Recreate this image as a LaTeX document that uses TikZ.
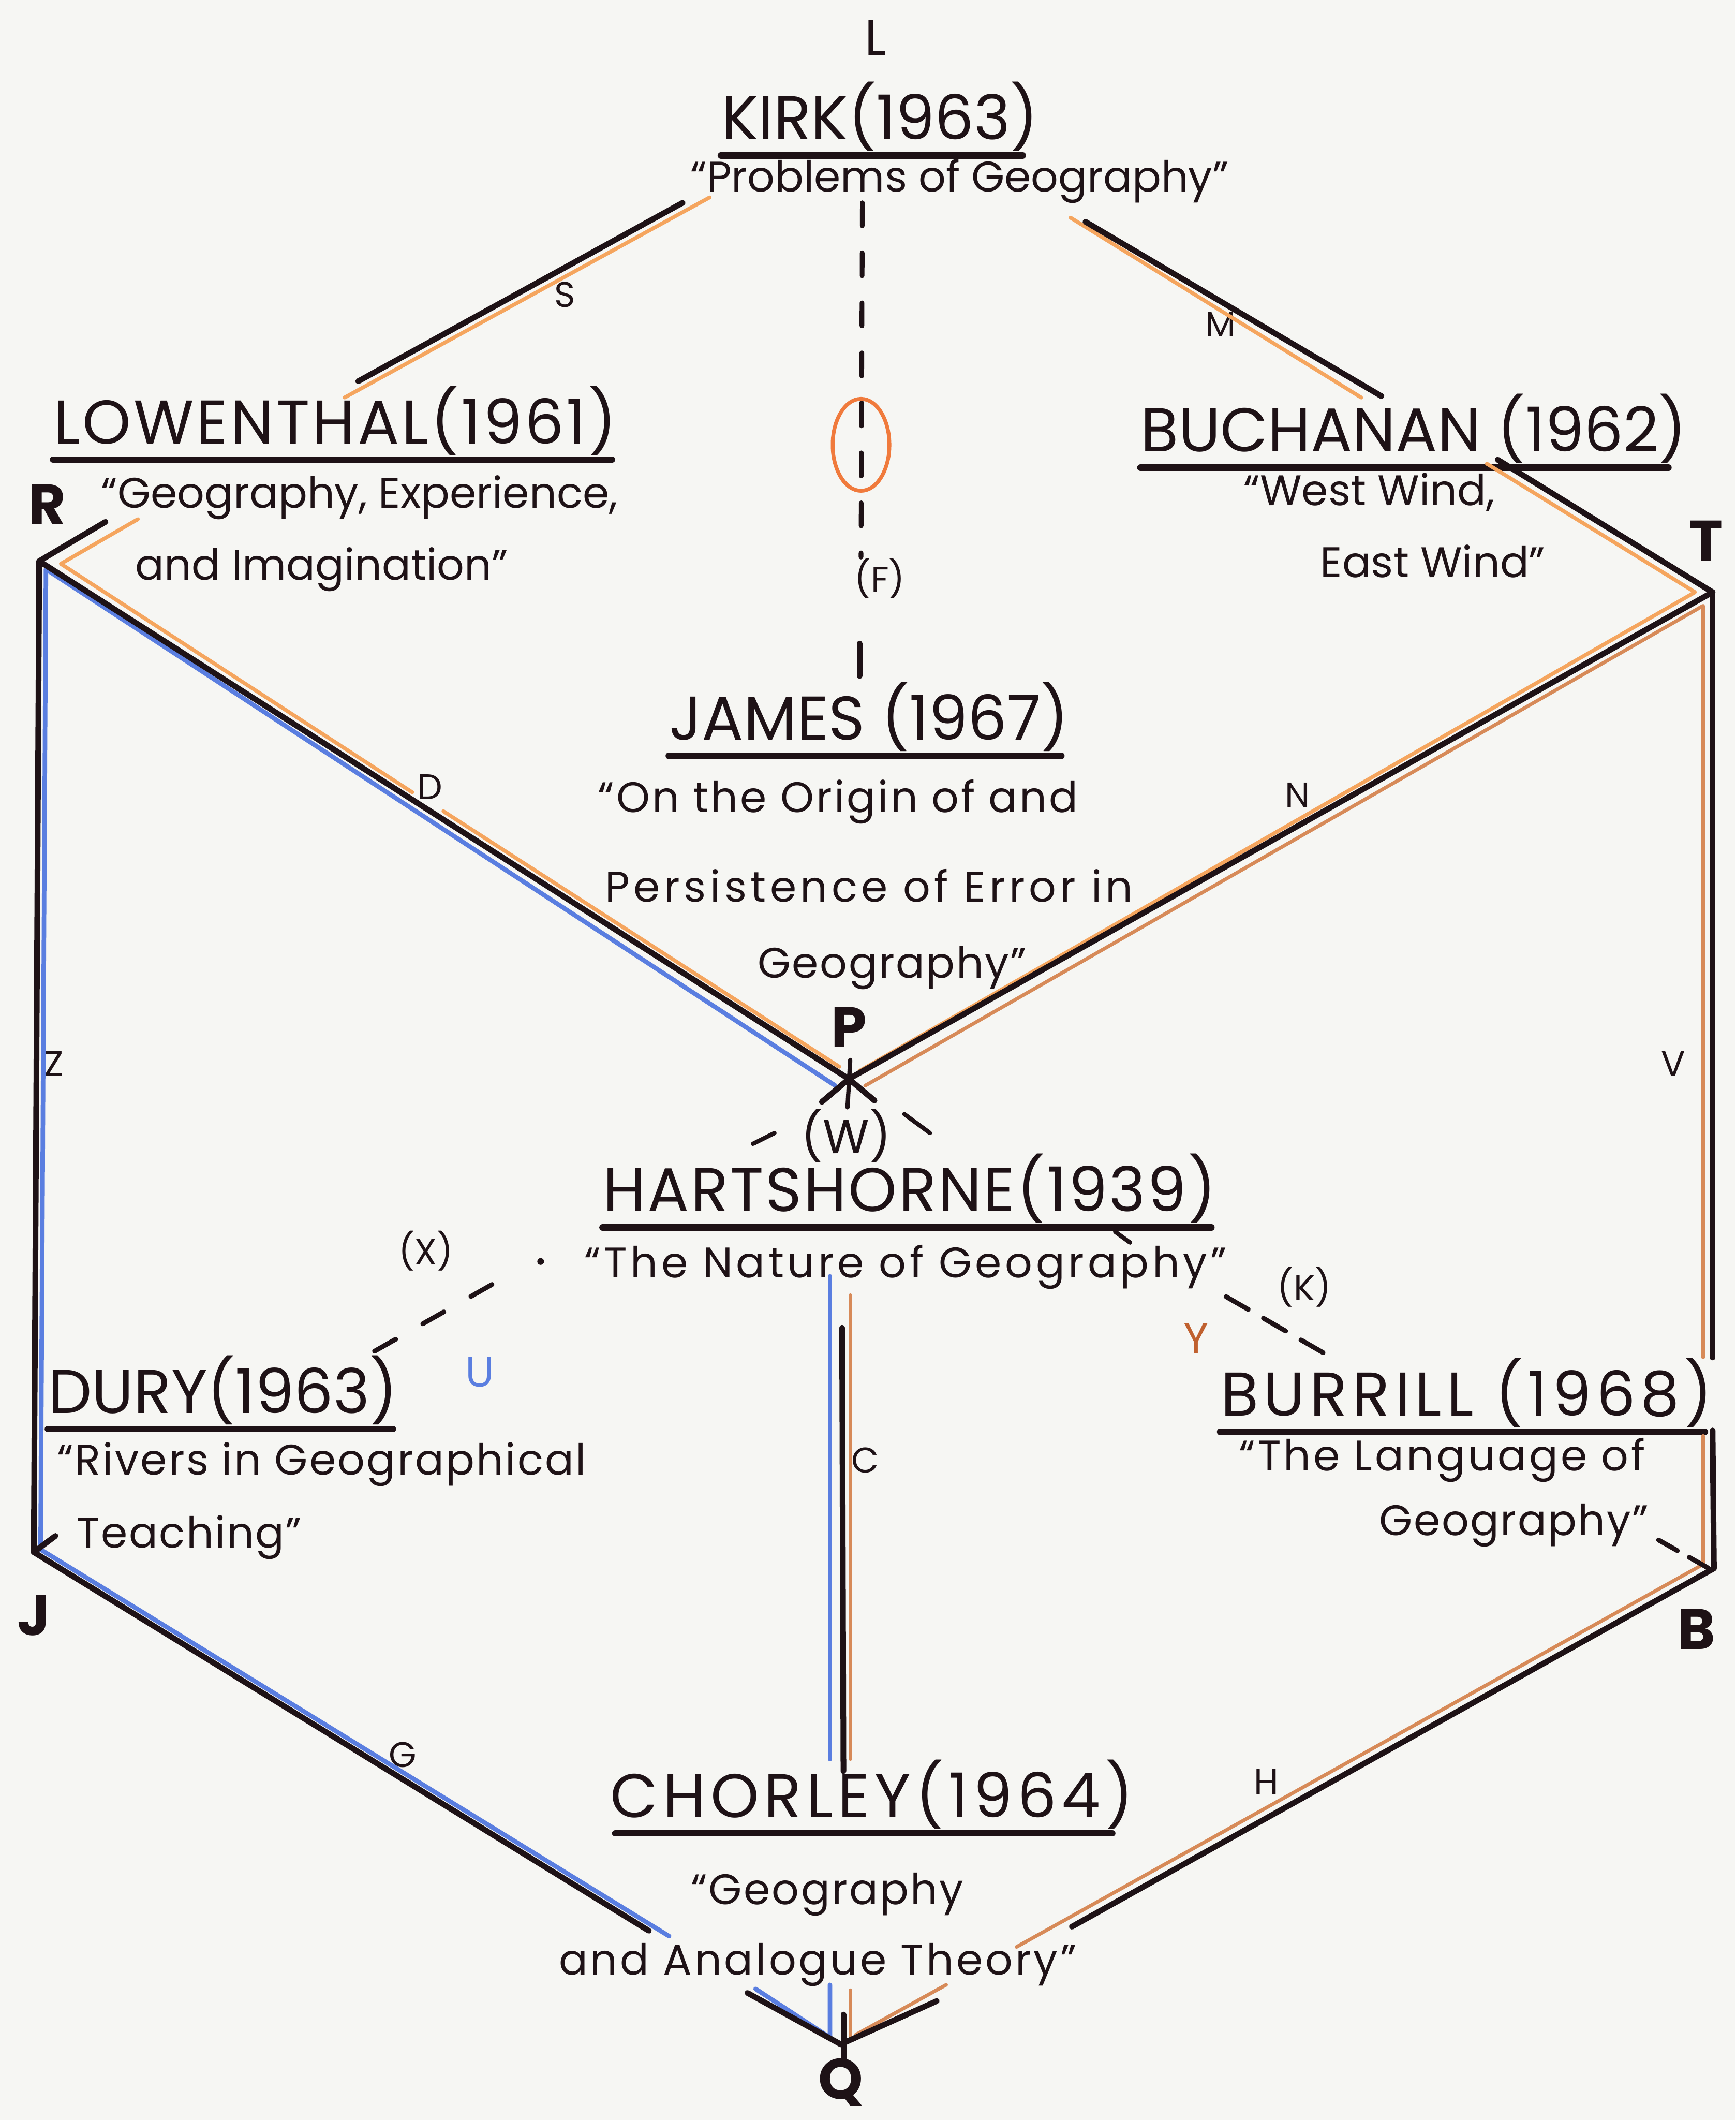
\documentclass[tikz,border=0pt]{standalone}
\usepackage{fontspec}
\setmainfont{Poppins}
\usetikzlibrary{calc}
\definecolor{paper}{HTML}{F6F6F3}
\definecolor{inkk}{HTML}{1E1216}
\definecolor{orng}{HTML}{F5A55E}
\definecolor{rust}{HTML}{D78A58}
\definecolor{azure}{HTML}{5A7EE0}
\definecolor{ovalred}{HTML}{F07A3C}
\definecolor{redbrown}{HTML}{C0602E}
\tikzset{
  every picture/.style={line cap=round, line join=round},
  ink/.style={inkk, line width=2.4pt},
  thinink/.style={inkk, line width=1.8pt},
  uline/.style={inkk, line width=2.8pt},
  oline/.style={orng, line width=1.6pt},
  bline/.style={azure, line width=1.9pt},
  rline/.style={rust, line width=1.5pt},
  dashln/.style={inkk, line width=2pt, dash pattern=on 0.34cm off 0.4cm},
  % names and titles; the argument is the letter spacing
  authorname/.style={inner sep=0pt, text=inkk, font=\fontsize{26}{30}\selectfont\addfontfeature{LetterSpace=#1}},
  authorname/.default=0,
  worktitle/.style={inner sep=0pt, text=inkk, font=\fontsize{18}{22}\selectfont\addfontfeature{LetterSpace=#1}},
  worktitle/.default=0,
  edgelbl/.style={inner sep=0pt, text=inkk, font=\fontsize{15}{18}\selectfont},
  vertexlbl/.style={inner sep=0pt, text=inkk, font=\fontsize{24}{28}\selectfont\bfseries},
}
\begin{document}
\begin{tikzpicture}[x=0.02cm, y=-0.02cm]
  \useasboundingbox[fill=paper] (0,0) rectangle (1284,1568);
  % ---------------- corners of the cube
  \coordinate (R) at (29,415);
  \coordinate (T) at (1267,438);
  \coordinate (P) at (628,798);
  \coordinate (J) at (25,1148);
  \coordinate (B) at (1268,1160);
  \coordinate (Q) at (622,1512);
  % ends of the lines where a text cuts them
  \coordinate (s1) at (505,150);
  \coordinate (s2) at (265,282);
  \coordinate (m1) at (803,164);
  \coordinate (m2) at (1022,293);
  \coordinate (lw) at (78,386);
  \coordinate (bu) at (1108,340);
  \coordinate (v1) at (1267,1004);
  \coordinate (v2) at (1267,1058);
  \coordinate (g1) at (480,1428);
  \coordinate (g2) at (553,1474);
  \coordinate (h1) at (793,1425);
  \coordinate (h2) at (693,1480);
  \coordinate (c1) at (623,982);
  \coordinate (c2) at (624,1310);
  \coordinate (q1) at (624,1490);
  \coordinate (q2) at (624,1526);

  % ---------------- works
  \node[edgelbl, font=\fontsize{21}{24}\selectfont] (Ltop) at (648,28) {L};
  \node[authorname] (kirk) at (651,86) {KIRK(1963)};
  \node[worktitle] (kirkw) at (710,134) {“Problems of Geography”};
  \node[authorname=4] (lowen) at (248,311) {LOWENTHAL(1961)};
  \node[worktitle] (lowenwa) at (266,368) {“Geography, Experience,};
  \node[worktitle] (lowenwb) at (238,421) {and Imagination”};
  \node[authorname] (buch) at (1046,317) {BUCHANAN (1962)};
  \node[worktitle] (buchwa) at (1013,364) {“West Wind,};
  \node[worktitle] (buchwb) at (1060,415) {East Wind”};
  \node[authorname] (james) at (643,530) {JAMES (1967)};
  \node[worktitle=5] (jameswa) at (620,593) {“On the Origin of and};
  \node[worktitle=9] (jameswb) at (643,655) {Persistence of Error in};
  \node[worktitle=3] (jameswc) at (660,716) {Geography”};
  \node[authorname=3] (hart) at (673,879) {HARTSHORNE(1939)};
  \node[worktitle=8] (hartw) at (670,937) {“The Nature of Geography”};
  \node[authorname] (dury) at (165,1028) {DURY(1963)};
  \node[worktitle=4] (durywa) at (238,1083) {“Rivers in Geographical};
  \node[worktitle=3] (durywb) at (140,1137) {Teaching”};
  \node[authorname=8] (burr) at (1085,1030) {BURRILL (1968)};
  \node[worktitle=6] (burrwa) at (1067,1080) {“The Language of};
  \node[worktitle=3] (burrwb) at (1120,1128) {Geography”};
  \node[authorname=8] (chor) at (645,1327) {CHORLEY(1964)};
  \node[worktitle=4] (chorwa) at (612,1401) {“Geography};
  \node[worktitle=6] (chorwb) at (605,1453) {and Analogue Theory”};
  % underlines: node, cut at left, cut at right
  \foreach \w/\l/\r in {kirk/0/12, lowen/0/4, buch/0/14, james/0/6, hart/0/4, dury/0/4, burr/0/6, chor/4/16}
    \draw[uline] ($(\w.south west)+(\l,3)$) -- ($(\w.south east)+(-\r,3)$);

  % ---------------- corner and edge letters
  \node[vertexlbl] (Rlbl) at (35,373) {R};
  \node[vertexlbl] (Tlbl) at (1262,400) {T};
  \node[vertexlbl] (Plbl) at (628,760) {P};
  \node[vertexlbl] (Jlbl) at (25,1195) {J};
  \node[vertexlbl] (Blbl) at (1255,1205) {B};
  \node[vertexlbl] (Qlbl) at (622,1540) {Q};
  \node[edgelbl] (Slbl) at (418,218) {S};
  \node[edgelbl] (Mlbl) at (903,240) {M};
  \node[edgelbl] (Dlbl) at (318,582) {D};
  \node[edgelbl] (Nlbl) at (960,588) {N};
  \node[edgelbl] (Zlbl) at (40,787) {Z};
  \node[edgelbl] (Vlbl) at (1238,787) {V};
  \node[edgelbl] (Clbl) at (640,1080) {C};
  \node[edgelbl] (Glbl) at (298,1298) {G};
  \node[edgelbl] (Hlbl) at (937,1318) {H};
  \node[edgelbl] (Flbl) at (651,428) {(F)};
  \node[edgelbl, font=\fontsize{20}{24}\selectfont] (Wlbl) at (626,840) {(W)};
  \node[edgelbl] (Xlbl) at (315,925) {(X)};
  \node[edgelbl] (Klbl) at (965,952) {(K)};
  \node[edgelbl, text=azure, font=\fontsize{18}{22}\selectfont] (Ulbl) at (355,1015) {U};
  \node[edgelbl, text=redbrown, font=\fontsize{18}{22}\selectfont] (Ylbl) at (885,990) {Y};

  % ---------------- coloured tracks beside the lines
  % orange: Kirk - Lowenthal - R - P and Kirk - Buchanan - T - P
  \draw[oline] (525,146) -- (255,294);
  \draw[oline] (102,384) -- (45,417) -- (305,586);
  \draw[oline] (328,600) -- (621,789);
  \draw[oline] (792,161) -- (1007,294);
  \draw[oline] (1100,343) -- (1254,438) -- (636,792);
  % blue: P - R - J - Q and Hartshorne - Chorley
  \draw[bline] (618,803) -- (34,421) -- (30,1146) -- (495,1432);
  \draw[bline] (559,1471) -- (614,1507) -- (614,1468);
  \draw[bline] (614,944) -- (614,1301);
  % brown: P - T - B - Q and Hartshorne - Chorley
  \draw[rline] (640,803) -- (1260,448) -- (1260,1004);
  \draw[rline] (1260,1062) -- (1260,1157) -- (752,1440);
  \draw[rline] (700,1468) -- (633,1505);
  \draw[rline] (629,1472) -- (629,1507);
  \draw[rline] (629,958) -- (629,1301);

  % ---------------- black lines
  \draw[ink] (s1) -- (s2);
  \draw[ink] (m1) -- (m2);
  \draw[ink] (lw) -- (R) -- (P) -- (T) -- (bu);
  \draw[ink] (R) -- (J) -- (g1);
  \draw[ink] (T) -- (v1);
  \draw[ink] (v2) -- (B) -- (h1);
  \draw[ink] (g2) -- (Q) -- (h2);
  \draw[ink] (c1) -- (c2);
  \draw[ink] (q1) -- (q2);
  \draw[ink] (J) -- ++(16,-12);
  % cross at P
  \draw[ink] (P) -- ++(19,16);
  \draw[ink] (P) -- ++(-20,17);
  \draw[thinink] ($(P)+(1,-14)$) -- ($(P)+(-1,21)$);
  \draw[thinink] (557,846) -- (573,838);
  \draw[thinink] (669,824) -- (688,838);

  % ---------------- dashed links
  \draw[dashln] (638,150) -- (637,412);
  \draw[ink] (636,476) -- (636,500);
  \draw[ovalred, line width=1.6pt] (637,329) ellipse [x radius=21, y radius=34];
  \fill[inkk] (400,933) circle (2.5);
  \draw[dashln, dash pattern=on 0.36cm off 0.46cm] (364,950) -- (276,1000);
  \draw[thinink] (825,911) -- (836,919);
  \draw[dashln, dash pattern=on 0.38cm off 0.26cm] (907,959) -- (985,1004);
  \draw[dashln, dash pattern=on 0.32cm off 0.2cm] (1227,1139) -- (1266,1161);
\end{tikzpicture}
\end{document}
